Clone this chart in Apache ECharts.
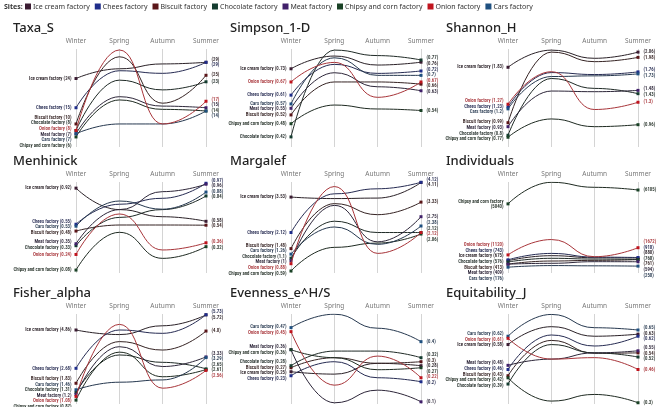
<!DOCTYPE html>
<html>
<head>
<meta charset="utf-8">
<script src="https://cdn.jsdelivr.net/npm/echarts@6/dist/echarts.min.js"></script>
<style>
  html, body { margin: 0; padding: 0; background: #fff; }
  #chart { width: 669px; height: 407px; }
</style>
</head>
<body>
<div id="chart"></div>
<script>
// seasons on the x axis, sites as lines
const seasons = ['Winter', 'Spring', 'Autumn', 'Summer'];
const sites = ['Ice cream factory', 'Chees factory', 'Biscuit factory', 'Chocolate factory',
  'Meat factory', 'Chipsy and corn factory', 'Onion factory', 'Cars factory'];
const siteColors = ['#3b1c32', '#1f2d8a', '#5a1518', '#153d30', '#41206a', '#1a4226', '#c0141e', '#1f5080'];
const lineColors = ['#2a2127', '#262b52', '#352323', '#1f2a26', '#2d2639', '#1e2a21', '#a8353a', '#26384f'];

const metrics = ['Taxa_S', 'Simpson_1-D', 'Shannon_H', 'Menhinick', 'Margalef', 'Individuals',
  'Fisher_alpha', 'Evenness_e^H/S', 'Equitability_J'];

// one row per site (same order as sites): Winter, Spring, Autumn, Summer
const taxaS = [[24, 27, 28.5, 29], [15, 26.4, 25.6, 29], [10, 30.7, 16.4, 25], [8, 23.5, 20.5, 23],
  [7, 18.4, 15.5, 15], [6, 17.4, 14.5, 14], [8, 32.8, 10, 17], [7, 10, 10, 14]];
const simpson = [[0.73, 0.788, 0.747, 0.76], [0.61, 0.75, 0.709, 0.72], [0.52, 0.67, 0.67, 0.66], [0.42, 0.815, 0.79, 0.77],
  [0.55, 0.712, 0.648, 0.63], [0.48, 0.565, 0.547, 0.54], [0.67, 0.759, 0.6, 0.67], [0.57, 0.78, 0.7, 0.7]];
const shannon = [[1.83, 2.09, 1.966, 2.06], [1.23, 1.75, 1.72, 1.76], [0.99, 2.06, 1.915, 1.98], [0.8, 1.66, 1.51, 1.43],
  [0.93, 1.47, 1.46, 1.48], [0.77, 1.047, 0.93, 0.96], [1.27, 1.763, 1.19, 1.3], [1.2, 1.69, 1.7, 1.73]];
const menhinick = [[0.92, 0.7, 0.627, 0.58], [0.55, 0.755, 0.816, 0.97], [0.48, 0.542, 0.542, 0.54], [0.33, 0.62, 0.7, 0.84],
  [0.35, 0.7, 0.884, 0.96], [0.08, 0.467, 0.2, 0.32], [0.24, 0.655, 0.286, 0.36], [0.53, 0.788, 0.704, 0.88]];
const margalef = [[3.53, 3.47, 3.49, 4.11], [2.12, 3.66, 3.86, 4.12], [1.48, 3.27, 2.83, 3.33], [1.1, 2.57, 2.12, 2.12],
  [1, 3.2, 1.75, 2.75], [0.59, 1.53, 1.7, 2.06], [0.88, 3.95, 1.29, 2.12], [1.26, 2.34, 1.65, 2.38]];
const individuals = [[675, 1060, 900, 880], [743, 1235, 950, 918], [413, 650, 700, 761], [576, 860, 800, 768],
  [409, 475, 600, 594], [5040, 6696, 6310, 6105], [1120, 2300, 980, 1672], [176, 300, 280, 258]];
const fisher = [[4.86, 4.6, 5.1, 5.72], [2.68, 4.86, 4.67, 5.73], [1.83, 4.2, 3.72, 4.8], [1.31, 3.44, 3.02, 2.65],
  [1.2, 3.91, 2.78, 3.33], [0.87, 3.6, 2.2, 2.61], [1.08, 5.18, 1.55, 2.56], [1.46, 1.89, 2.02, 3.29]];
const evenness = [[0.25, 0.238, 0.292, 0.28], [0.23, 0.3, 0.22, 0.2], [0.27, 0.32, 0.292, 0.3], [0.28, 0.353, 0.353, 0.32],
  [0.36, 0.095, 0.158, 0.1], [0.36, 0.32, 0.26, 0.27], [0.45, 0.183, 0.328, 0.22], [0.47, 0.537, 0.467, 0.4]];
const equitability = [[0.58, 0.666, 0.62, 0.63], [0.46, 0.626, 0.573, 0.62], [0.43, 0.6, 0.538, 0.54], [0.39, 0.58, 0.54, 0.52],
  [0.48, 0.51, 0.54, 0.55], [0.42, 0.308, 0.34, 0.3], [0.61, 0.51, 0.517, 0.46], [0.62, 0.725, 0.661, 0.65]];

const panelData = [taxaS, simpson, shannon, menhinick, margalef, individuals, fisher, evenness, equitability];
// value range shown on each panel's axis lines
const yRanges = [[2.9, 33.1], [0.374, 0.82], [0.622, 2.107], [0.05, 0.983], [0.51, 4.13], [-270, 6719],
  [0.65, 5.77], [0.089, 0.538], [0.294, 0.727]];

const colLeft = [76, 291, 508];
const colWidth = 130;
const rowTop = [49, 182, 314];
const rowHeight = [98, 91, 90];
const titleLeft = [13, 230, 446];
const labelGap = 5.6;
const labelFont = '"Roboto Condensed", Roboto, sans-serif';

// spread labels that would overlap, keeping each cluster centred on its points
function dodge(vals, pxPerUnit, gap) {
  const items = vals.map((v, i) => ({ i, y: -v * pxPerUnit })).sort((a, b) => a.y - b.y);
  let clusters = items.map(it => ({ members: [it], top: it.y }));
  let merged = true;
  while (merged) {
    merged = false;
    for (let k = 0; k < clusters.length - 1; k++) {
      const a = clusters[k], b = clusters[k + 1];
      const aBottom = a.top + (a.members.length - 1) * gap;
      if (b.top - aBottom < gap) {
        const members = a.members.concat(b.members);
        const mean = members.reduce((s, m) => s + m.y, 0) / members.length;
        clusters.splice(k, 2, { members, top: mean - (members.length - 1) * gap / 2 });
        merged = true;
        break;
      }
    }
  }
  const off = [];
  clusters.forEach(c => c.members.forEach((m, j) => { off[m.i] = c.top + j * gap - m.y; }));
  return off;
}

const grids = [], xAxes = [], yAxes = [], titles = [], series = [];

metrics.forEach((metric, p) => {
  const col = p % 3, row = Math.floor(p / 3);
  grids.push({ left: colLeft[col], top: rowTop[row], width: colWidth, height: rowHeight[row] });
  xAxes.push({
    type: 'category', gridIndex: p, data: seasons, boundaryGap: false, position: 'top',
    axisLine: { show: false }, axisTick: { show: false },
    axisLabel: { fontSize: 6.5, color: '#777', margin: 4, fontFamily: 'Noto Sans' },
    splitLine: { show: true, lineStyle: { color: '#d4d4d4', width: 1 } }
  });
  yAxes.push({ type: 'value', gridIndex: p, min: yRanges[p][0], max: yRanges[p][1], show: false });
  titles.push({
    text: metric, left: titleLeft[col], top: rowTop[row] - 27, padding: 0,
    textStyle: { fontSize: 13, fontWeight: 500, color: '#222', fontFamily: 'Noto Sans' }
  });

  const rows = panelData[p];
  const pxPerUnit = rowHeight[row] / (yRanges[p][1] - yRanges[p][0]);
  const leftOff = dodge(rows.map(r => r[0]), pxPerUnit, labelGap);
  const rightOff = dodge(rows.map(r => r[3]), pxPerUnit, labelGap);

  rows.forEach((vals, s) => {
    const name = sites[s];
    // the long Individuals label is wrapped onto two lines
    const leftText = p === 5 && (name + ' (' + vals[0] + ')').length > 29
      ? name + '\n(' + vals[0] + ')' : name + ' (' + vals[0] + ')';
    series.push({
      type: 'line', name: name, xAxisIndex: p, yAxisIndex: p,
      smooth: 0.5, smoothMonotone: 'x', symbol: 'rect', symbolSize: 3, showAllSymbol: true,
      z: s === 6 ? 3 : 2,
      lineStyle: { width: 1, color: lineColors[s] },
      itemStyle: { color: siteColors[s] },
      label: { fontSize: 4.8, fontWeight: 600, color: lineColors[s], fontFamily: labelFont, align: 'right', lineHeight: 5 },
      emphasis: { disabled: true },
      data: vals.map((v, k) => {
        if (k === 0) {
          return { value: v, label: { show: true, position: 'left', distance: 3, offset: [0, leftOff[s]],
            formatter: leftText } };
        }
        if (k === 3) {
          return { value: v, label: { show: true, position: 'right', align: 'left', distance: 4, offset: [0, rightOff[s]],
            formatter: '(' + v + ')' } };
        }
        return { value: v, symbol: 'none' };
      })
    });
  });
});

const chart = echarts.init(document.getElementById('chart'));
chart.setOption({
  animation: false,
  backgroundColor: '#fff',
  title: titles,
  legend: {
    data: sites, left: 25, top: 3, icon: 'rect', itemWidth: 6, itemHeight: 6, itemGap: 5,
    selectedMode: false, padding: 0,
    textStyle: { fontSize: 7, color: '#333', fontFamily: 'Noto Sans', padding: [0, 0, 0, -3] }
  },
  graphic: [{
    type: 'text', left: 4, top: 3,
    style: { text: 'Sites:', fontSize: 7, fontWeight: 'bold', fill: '#333', fontFamily: 'Noto Sans' }
  }],
  grid: grids,
  xAxis: xAxes,
  yAxis: yAxes,
  series: series
});
</script>
</body>
</html>
